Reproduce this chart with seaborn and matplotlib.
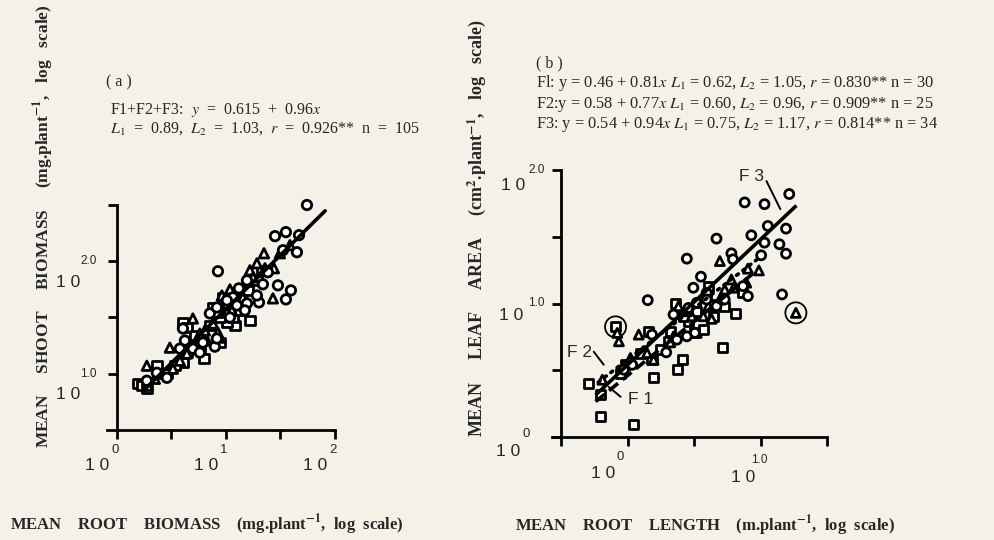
import numpy as np
import pandas as pd
import matplotlib
matplotlib.use("Agg")
import matplotlib.pyplot as plt
import seaborn as sns

# ---------------- data (log10 units) ----------------
# Panel (a): log10 mean root biomass (x) vs log10 mean shoot biomass (y)
a_f1_x = [0.193, 0.229, 0.275, 0.367, 0.606, 0.606, 0.642, 0.798, 0.761, 0.945,
          1.220, 1.083, 1.009, 0.972, 1.064, 0.945, 1.284, 0.881, 0.459, 0.642,
          0.761, 1.147, 1.202, 1.018, 0.917, 0.716, 1.330, 0.853, 0.532, 1.128]
a_f1_y = [0.911, 0.893, 0.875, 1.071, 1.098, 1.455, 1.411, 1.134, 1.232, 1.277,
          1.473, 1.429, 1.455, 1.679, 1.500, 1.500, 1.830, 1.589, 1.000, 1.188,
          1.277, 1.634, 1.741, 1.625, 1.545, 1.339, 1.920, 1.429, 1.071, 1.563]
a_f2_x = [1.349, 1.440, 1.431, 1.284, 1.037, 0.963, 0.697, 0.927, 0.945, 0.486,
          0.275, 0.514, 0.761, 0.642, 0.881, 1.220, 1.248, 1.587, 1.495, 1.055,
          1.156, 0.826, 0.394, 0.284, 1.009, 1.128, 0.807, 0.578, 1.358, 0.349]
a_f2_y = [2.071, 1.938, 1.670, 1.982, 1.750, 1.696, 1.491, 1.366, 1.321, 1.232,
          1.071, 1.045, 1.357, 1.179, 1.446, 1.920, 1.857, 2.143, 2.071, 1.563,
          1.679, 1.295, 1.000, 0.893, 1.545, 1.741, 1.384, 1.116, 1.938, 0.955]
a_f3_x = [1.743, 1.450, 1.550, 1.670, 1.651, 1.523, 0.927, 1.193, 1.339, 1.477,
          1.596, 1.550, 1.303, 1.119, 1.064, 1.009, 1.193, 1.101, 1.174, 0.853,
          0.917, 1.037, 0.606, 0.624, 0.578, 0.697, 0.789, 0.899, 0.761, 0.367,
          0.459, 0.275, 0.917, 1.284, 1.385]
a_f3_y = [2.500, 2.223, 2.259, 2.232, 2.080, 2.098, 1.911, 1.830, 1.795, 1.786,
          1.741, 1.661, 1.634, 1.759, 1.679, 1.652, 1.625, 1.607, 1.563, 1.536,
          1.589, 1.500, 1.402, 1.295, 1.223, 1.223, 1.277, 1.241, 1.188, 1.009,
          0.964, 0.938, 1.313, 1.696, 1.902]

# Panel (b): log10 mean root length (x) vs log10 mean leaf area (y)
b_f1_x = [-0.090, 0.159, 0.358, 0.607, 0.731, 0.813, 0.570, 0.507, 0.714, 0.416,
          0.378, 0.192, -0.293, -0.201, -0.201, 0.043, 0.184, -0.015, 0.321, 0.520,
          0.644, 0.458, 0.308, 0.097, 0.644, 0.868, -0.052, 0.246, 0.595, 0.420]
b_f1_y = [0.825, 0.792, 1.000, 1.125, 0.980, 0.925, 0.805, 0.780, 0.667, 0.584,
          0.504, 0.449, 0.404, 0.316, 0.153, 0.095, 0.584, 0.541, 0.792, 0.942,
          0.992, 0.867, 0.717, 0.629, 0.905, 1.080, 0.479, 0.654, 1.055, 0.905]
b_f2_x = [0.694, 0.905, 0.988, 0.781, 0.893, 0.731, 1.266, 0.632, 0.570, 0.383,
          0.084, -0.065, -0.077, -0.189, 0.346, 0.196, 0.483, 0.022, 0.799, 0.446,
          0.607, 0.147, 0.694, 0.520, 0.321]
b_f2_y = [1.318, 1.261, 1.248, 1.180, 1.156, 1.105, 0.930, 0.885, 0.905, 0.980,
          0.767, 0.717, 0.780, 0.429, 0.754, 0.579, 0.905, 0.592, 1.118, 0.942,
          0.980, 0.629, 1.030, 0.780, 0.709]
b_f3_x = [1.216, 0.881, 1.030, 1.055, 1.192, 0.931, 0.669, 1.030, 1.142, 1.192,
          1.005, 0.781, 0.446, 0.552, 0.495, 0.868, 0.905, 1.162, 0.152, 0.520,
          0.346, 0.669, 0.731, 0.446, 0.507, 0.291, 0.371, 0.184, 0.035, -0.028,
          0.793, 0.595, 0.595, 0.458]
b_f3_y = [1.820, 1.757, 1.744, 1.581, 1.561, 1.511, 1.486, 1.456, 1.444, 1.373,
          1.361, 1.376, 1.336, 1.201, 1.118, 1.130, 1.055, 1.068, 1.025, 1.005,
          0.917, 0.980, 1.030, 0.754, 0.780, 0.634, 0.729, 0.767, 0.541, 0.504,
          1.331, 1.080, 1.030, 0.967]

# circled (outlying) points in panel (b)
b_circled_x = [-0.090, 1.266]
b_circled_y = [0.825, 0.930]

# regression lines: intercept, slope, x-range (log units)
a_line = dict(a=0.615, b=0.96, x=[0.24, 1.91])
b_lines = {
    "F1": dict(a=0.46, b=0.81, x=[-0.24, 0.95]),
    "F2": dict(a=0.58, b=0.77, x=[-0.22, 1.00]),
    "F3": dict(a=0.54, b=0.94, x=[-0.24, 1.27]),
}

# ---------------- styling ----------------
BG = "#f4f1e8"
sns.set_style("white")
plt.rcParams["font.family"] = ["Liberation Serif", "DejaVu Serif"]
plt.rcParams["mathtext.fontset"] = "stix"

W, H = 995, 540
fig = plt.figure(figsize=(W / 100, H / 100), dpi=100, facecolor=BG)


def fx(px):
    return px / W


def fy(py):
    return 1 - py / H


def make_df(groups):
    rows = []
    for fam, xs, ys in groups:
        for x, y in zip(xs, ys):
            rows.append((fam, x, y))
    return pd.DataFrame(rows, columns=["family", "x", "y"])


markers = {"F1": "s", "F2": "^", "F3": "o"}
SANS = ["Liberation Sans", "DejaVu Sans"]


def style_axes(ax, spine_x, xlim, ylim, xticks, yticks):
    ax.set_facecolor("none")
    ax.set_xlim(*xlim)
    ax.set_ylim(*ylim)
    for s in ["top", "right"]:
        ax.spines[s].set_visible(False)
    ax.spines["left"].set_position(("data", spine_x))
    for s in ["left", "bottom"]:
        ax.spines[s].set_linewidth(2.0)
        ax.spines[s].set_color("black")
    ax.set_xticks(xticks)
    ax.set_yticks(yticks)
    ax.tick_params(axis="both", which="major", direction="out", length=6.5,
                   width=2, color="black", bottom=True, left=True,
                   top=False, right=False, labelbottom=False, labelleft=False)
    ax.set_xlabel("")
    ax.set_ylabel("")


def lab(ax, x, y, txt, dx, dy, size, ha="center"):
    ax.annotate(txt, xy=(x, y), xycoords="data", xytext=(dx, dy),
                textcoords="offset pixels", ha=ha, va="center",
                fontsize=size, family=SANS, annotation_clip=False)


# ---------------- panel (a) ----------------
axa = fig.add_axes([fx(107), fy(430), (335 - 107) / W, (430 - 205) / H])
dfa = make_df([("F1", a_f1_x, a_f1_y), ("F2", a_f2_x, a_f2_y), ("F3", a_f3_x, a_f3_y)])
sns.scatterplot(data=dfa, x="x", y="y", style="family", markers=markers,
                color="white", edgecolor="black", linewidth=2.0, s=46,
                legend=False, ax=axa, clip_on=False, zorder=3)
lx = np.array(a_line["x"])
sns.lineplot(x=lx, y=a_line["a"] + a_line["b"] * lx, ax=axa, color="black",
             lw=2.6, zorder=4)
style_axes(axa, 0.0, (-0.09, 2.0), (0.5, 2.5), [0, 0.5, 1, 1.5, 2], [1.0, 1.5, 2.0, 2.5])

# tick labels of (a)
for v, e in [(2.0, "2.0"), (1.0, "1.0")]:
    lab(axa, 0, v, e, -20, 0, 8.5, ha="right")
    lab(axa, 0, v, "1 0", -37, -21, 12.5, ha="right")
for v, e in [(0, "0"), (1, "1"), (2, "2")]:
    lab(axa, v, 0.5, e, -2, -20, 9.5)
    lab(axa, v, 0.5, "1 0", -20, -36, 12.5)

fig.text(fx(106), fy(82), "( a )", fontsize=11.5, ha="left", va="center")
fig.text(fx(110), fy(110), r"F1+F2+F3:  $y$  =  0.615  +  0.96$x$", fontsize=11.5,
         ha="left", va="center")
fig.text(fx(110), fy(129),
         r"$L_{\mathit{1}}$  =  0.89,  $L_{\mathit{2}}$  =  1.03,  $r$  =  0.926**  n  =  105",
         fontsize=11.5, ha="left", va="center")
fig.text(fx(207), fy(525),
         r"MEAN    ROOT    BIOMASS    (mg.plant$^{\mathbf{-1}}$,  log  scale)",
         fontsize=12, fontweight="bold", ha="center", va="center")
fig.text(fx(44), fy(226),
         r"MEAN     SHOOT     BIOMASS     (mg.plant$^{\mathbf{-1}}$,   log   scale)",
         fontsize=12.5, fontweight="bold", ha="center", va="center", rotation=90)

# ---------------- panel (b) ----------------
axb = fig.add_axes([fx(552), fy(437), (827 - 552) / W, (437 - 170) / H])
dfb = make_df([("F1", b_f1_x, b_f1_y), ("F2", b_f2_x, b_f2_y), ("F3", b_f3_x, b_f3_y)])
sns.scatterplot(data=dfb, x="x", y="y", style="family", markers=markers,
                color="white", edgecolor="black", linewidth=2.0, s=42,
                legend=False, ax=axb, clip_on=False, zorder=3)
axb.scatter(b_circled_x, b_circled_y, s=230, facecolors="none",
            edgecolors="black", linewidths=1.3, zorder=3, clip_on=False)
styles = {"F1": (0, (3.2, 1.6)), "F2": (0, (0.6, 1.6)), "F3": "-"}
for fam, d in b_lines.items():
    xs = np.array(d["x"])
    sns.lineplot(x=xs, y=d["a"] + d["b"] * xs, ax=axb, color="black",
                 lw=2.6, linestyle=styles[fam], zorder=4,
                 solid_capstyle="butt", dash_capstyle="round" if fam == "F2" else "butt")
style_axes(axb, -0.5, (-0.568, 1.5), (0.0, 2.0), [-0.5, 0, 0.5, 1.0, 1.5],
           [0.0, 0.5, 1.0, 1.5, 2.0])

# family labels with leader lines
for txt, (tx, ty), (x0, y0), (x1, y1) in [
    ("F3", (0.93, 1.95), (1.045, 1.917), (1.149, 1.707)),
    ("F2", (-0.358, 0.632), (-0.254, 0.639), (-0.179, 0.541)),
    ("F1", (0.097, 0.278), (-0.052, 0.301), (-0.142, 0.376)),
]:
    axb.text(tx, ty, txt.replace("F", "F "), fontsize=12.5, family=SANS,
             ha="center", va="center")
    axb.plot([x0, x1], [y0, y1], color="black", lw=1.4)

# tick labels of (b)
lab(axb, -0.5, 2.0, "2.0", -16, 0, 8.5, ha="right")
lab(axb, -0.5, 2.0, "1 0", -36, -15, 12.5, ha="right")
lab(axb, -0.5, 1.0, "1.0", -16, 0, 8.5, ha="right")
lab(axb, -0.5, 1.0, "1 0", -38, -12, 12.5, ha="right")
lab(axb, -0.5, 0.0, "0", -35, 3, 9.5)
lab(axb, -0.5, 0.0, "1 0", -41, -15, 12.5, ha="right")
lab(axb, 0.0, 0.0, "0", -7, -20, 9.5)
lab(axb, 0.0, 0.0, "1 0", -24, -36, 12.5)
lab(axb, 1.0, 0.0, "1.0", -1, -23, 8.5)
lab(axb, 1.0, 0.0, "1 0", -17, -41, 12.5)

fig.text(fx(536), fy(63), "( b )", fontsize=11.5, ha="left", va="center")
b_eq_lines = [
    r"Fl: y = 0.46 + 0.81$x$ $L_{\mathit{1}}$ = 0.62, $L_{\mathit{2}}$ = 1.05, $r$ = 0.830** n = 30",
    r"F2:y = 0.58 + 0.77$x$ $L_{\mathit{1}}$ = 0.60, $L_{\mathit{2}}$ = 0.96, $r$ = 0.909** n = 25",
    r"F3: y = 0.54 + 0.94$x$ $L_{\mathit{1}}$ = 0.75, $L_{\mathit{2}}$ = 1.17, $r$ = 0.814** n = 34",
]
for i, t in enumerate(b_eq_lines):
    fig.text(fx(536), fy(83 + 21 * i), t, fontsize=11.8, ha="left", va="center")

fig.text(fx(705), fy(526),
         r"MEAN    ROOT    LENGTH    (m.plant$^{\mathbf{-1}}$,  log  scale)",
         fontsize=12, fontweight="bold", ha="center", va="center")
fig.text(fx(477), fy(228),
         r"MEAN     LEAF     AREA     (cm$^{\mathbf{2}}$.plant$^{\mathbf{-1}}$,   log   scale)",
         fontsize=13, fontweight="bold", ha="center", va="center", rotation=90)

fig.savefig("out.png", dpi=100, facecolor=BG)
